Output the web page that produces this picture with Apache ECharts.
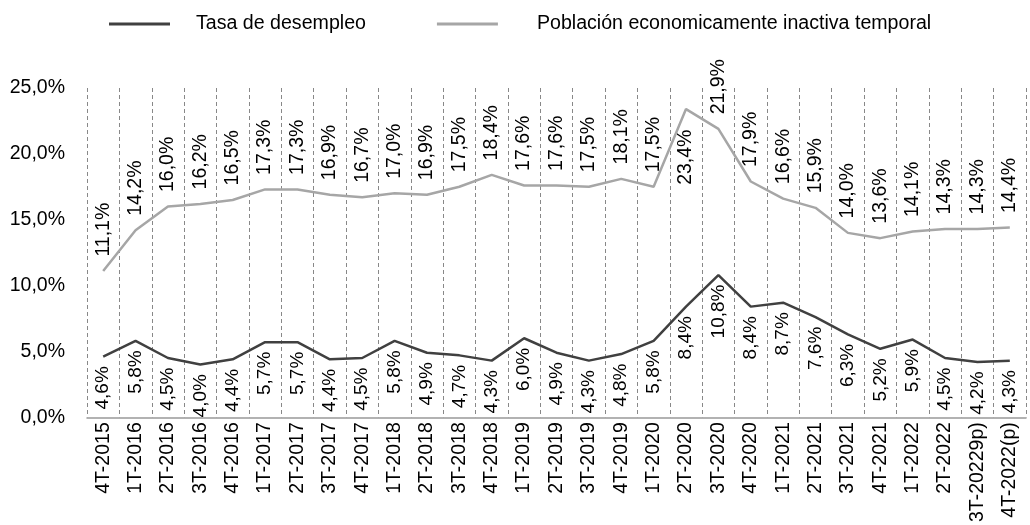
<!DOCTYPE html>
<html>
<head>
<meta charset="utf-8">
<script src="https://cdn.jsdelivr.net/npm/echarts@6/dist/echarts.min.js"></script>
<style>
  html, body { margin: 0; padding: 0; background: #fff; }
  #chart { width: 1030px; height: 525px; }
</style>
</head>
<body>
<div id="chart"></div>
<script>
// trimestres
var categorias = ["4T-2015", "1T-2016", "2T-2016", "3T-2016", "4T-2016", "1T-2017", "2T-2017", "3T-2017", "4T-2017",
  "1T-2018", "2T-2018", "3T-2018", "4T-2018", "1T-2019", "2T-2019", "3T-2019", "4T-2019", "1T-2020", "2T-2020",
  "3T-2020", "4T-2020", "1T-2021", "2T-2021", "3T-2021", "4T-2021", "1T-2022", "2T-2022", "3T-20229p)", "4T-2022(p)"];
var tasaDesempleo = [4.6, 5.8, 4.5, 4.0, 4.4, 5.7, 5.7, 4.4, 4.5, 5.8, 4.9, 4.7, 4.3, 6.0, 4.9, 4.3, 4.8, 5.8, 8.4,
  10.8, 8.4, 8.7, 7.6, 6.3, 5.2, 5.9, 4.5, 4.2, 4.3];
var inactivaTemporal = [11.1, 14.2, 16.0, 16.2, 16.5, 17.3, 17.3, 16.9, 16.7, 17.0, 16.9, 17.5, 18.4, 17.6, 17.6, 17.5,
  18.1, 17.5, 23.4, 21.9, 17.9, 16.6, 15.9, 14.0, 13.6, 14.1, 14.3, 14.3, 14.4];
var ticksY = [0, 5, 10, 15, 20, 25];

var fuente = "'Liberation Sans', Arial, sans-serif";
var oscuro = '#404040';
var claro = '#a6a6a6';

function pct(v) {
  return Number(v).toFixed(1).replace('.', ',') + '%';
}

// el máximo de la serie gris lleva la etiqueta debajo (no cabe arriba)
var maxInactiva = Math.max.apply(null, inactivaTemporal);
var datosInactiva = inactivaTemporal.map(function (v) {
  if (v === maxInactiva) {
    return { value: v, label: { position: 'bottom', distance: 20, align: 'right' } };
  }
  return v;
});

var myChart = echarts.init(document.getElementById('chart'));
myChart.setOption({
  animation: false,
  textStyle: { fontFamily: fuente },
  legend: {
    top: 9,
    left: 104,
    itemWidth: 61,
    itemHeight: 3,
    itemGap: 71,
    icon: 'rect',
    textStyle: { fontSize: 19.6, color: '#000', fontFamily: fuente, padding: [0, 0, 0, 21] },
    data: [
      { name: 'Tasa de desempleo', itemStyle: { color: oscuro } },
      { name: 'Población economicamente inactiva temporal', itemStyle: { color: claro },
        textStyle: { padding: [0, 0, 0, 34] } }
    ]
  },
  grid: { left: 87, right: 4, top: 88, bottom: 106 },
  xAxis: {
    type: 'category',
    data: categorias,
    boundaryGap: true,
    axisLine: { lineStyle: { color: '#999', width: 1.5 } },
    axisTick: { show: false },
    axisLabel: {
      interval: 0,
      rotate: 90,
      fontSize: 19.5,
      color: '#000',
      fontFamily: fuente,
      margin: 5
    },
    splitLine: {
      show: true,
      interval: 0,
      lineStyle: { type: [4, 3], color: '#888', width: 1 }
    }
  },
  yAxis: {
    type: 'value',
    min: ticksY[0],
    max: ticksY[ticksY.length - 1],
    interval: 5,
    axisLine: { show: false },
    axisTick: { show: false },
    splitLine: { show: false },
    axisLabel: {
      fontSize: 19.5,
      color: '#000',
      fontFamily: fuente,
      margin: 22,
      formatter: pct
    }
  },
  series: [
    {
      name: 'Tasa de desempleo',
      type: 'line',
      data: tasaDesempleo,
      symbol: 'circle',
      symbolSize: 1,
      showAllSymbol: true,
      itemStyle: { color: 'rgba(0,0,0,0)', borderWidth: 0 },
      lineStyle: { width: 2.5, color: oscuro },
      label: {
        show: true,
        position: 'bottom',
        distance: 9,
        rotate: 90,
        align: 'right',
        verticalAlign: 'middle',
        fontSize: 19,
        color: '#000',
        fontFamily: fuente,
        formatter: function (p) { return pct(p.value); }
      }
    },
    {
      name: 'Población economicamente inactiva temporal',
      type: 'line',
      data: datosInactiva,
      symbol: 'circle',
      symbolSize: 1,
      showAllSymbol: true,
      itemStyle: { color: 'rgba(0,0,0,0)', borderWidth: 0 },
      lineStyle: { width: 2.5, color: claro },
      label: {
        show: true,
        position: 'top',
        distance: 14,
        rotate: 90,
        align: 'left',
        verticalAlign: 'middle',
        fontSize: 19.5,
        color: '#000',
        fontFamily: fuente,
        formatter: function (p) { return pct(p.value); }
      }
    }
  ]
});
window.addEventListener('resize', function () {
  myChart.resize();
});
</script>
</body>
</html>
